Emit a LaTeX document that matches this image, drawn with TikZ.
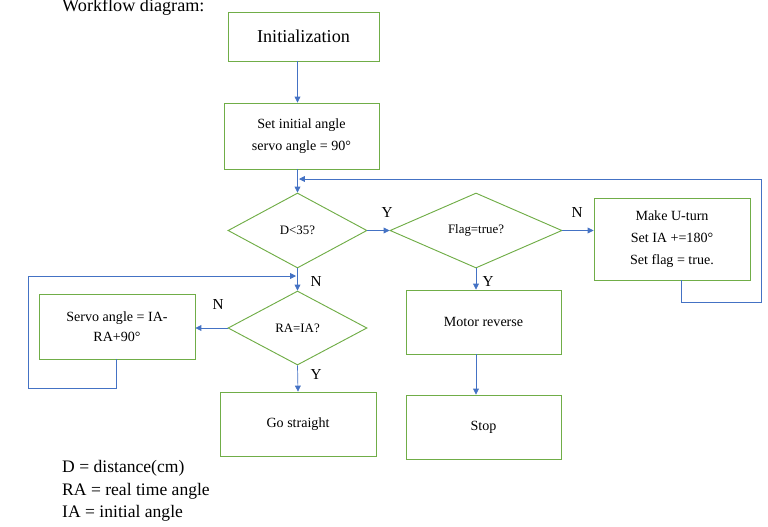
\documentclass[tikz,border=0pt]{standalone}
\usepackage{fontspec}
\setmainfont{Liberation Serif}
\usetikzlibrary{shapes.geometric,arrows.meta}
\definecolor{boxgreen}{RGB}{112,173,71}
\definecolor{lineblue}{RGB}{68,114,196}

\begin{document}
\begin{tikzpicture}[x=0.03cm,y=-0.03cm,
  box/.style = {draw=boxgreen, line width=0.8pt, align=center, font=\fontsize{12}{18.5}\selectfont, inner sep=2pt},
  decide/.style = {diamond, draw=boxgreen, line width=0.8pt, inner sep=1pt, font=\fontsize{11}{12}\selectfont},
  conn/.style = {draw=lineblue, line width=0.6pt, -{Triangle[length=5pt,width=5pt]}},
  loopline/.style = {draw=lineblue, line width=0.6pt},
  lbl/.style = {font=\fontsize{13}{14}\selectfont},
  legend/.style = {anchor = base west, inner sep=0pt, font=\fontsize{15}{16}\selectfont}]
\useasboundingbox (0,0) rectangle (768,526);

\node[legend, font=\fontsize{15.5}{16}\selectfont] (title) at (62,11) {Workflow diagram:};

\node[box, minimum width=4.53cm, minimum height=1.47cm, font=\fontsize{15.5}{17}\selectfont] (init) at (303.5,36.5) {Initialization};
\node[box, minimum width=4.65cm, minimum height=1.98cm] (setang) at (301.5,136) {Set initial angle\\servo angle = 90°};
\node[decide, minimum width=4.17cm, minimum height=2.25cm] (dlt) at (297.5,230.5) {D<35?};
\node[decide, minimum width=5.16cm, minimum height=2.25cm] (flag) at (476,230.5) {Flag=true?};
\node[box, minimum width=4.68cm, minimum height=2.46cm] (uturn) at (672,239) {Make U-turn\\Set IA +=180°\\Set flag = true.};
\node[box, minimum width=4.65cm, minimum height=1.92cm] (motor) at (483.5,322) {Motor reverse};
\node[box, minimum width=4.65cm, minimum height=1.92cm] (stop) at (483.5,427) {Stop};
\node[decide, minimum width=4.17cm, minimum height=2.22cm] (ra) at (297.5,328) {RA=IA?};
\node[box, minimum width=4.68cm, minimum height=1.95cm, font=\fontsize{12}{17}\selectfont] (servo) at (117,326.5) {Servo angle = IA-\\RA+90°};
\node[box, minimum width=4.68cm, minimum height=1.92cm] (go) at (298,424) {Go straight};

% legend
\node[legend] (leg1) at (62,472) {D = distance(cm)};
\node[legend] (leg2) at (62,495) {RA = real time angle};
\node[legend] (leg3) at (62,517) {IA = initial angle};

% main flow
\draw[conn] (init.south -| dlt.north) -- (setang.north -| dlt.north);
\draw[conn] (setang.south -| dlt.north) -- (dlt.north);
\draw[conn] (dlt.east) -- (flag.west);
\draw[conn] (flag.east) -- (flag.east -| uturn.west);
\draw[conn] (flag.south) -- (flag.south |- motor.north);
\draw[conn] (flag.south |- motor.south) -- (flag.south |- stop.north);
\draw[conn] (dlt.south) -- (ra.north);
\draw[conn] (ra.west) -- (ra.west -| servo.east);
\draw[conn] (ra.south) -- (go.north);

% loops back
\coordinate (uturnout) at (681,280);
\coordinate (topin) at (299,179);
\draw[loopline] (uturnout) -- (681,302) -- (761,302) -- (761,179) -- (330,179);
\draw[conn] (330,179) -- (topin);
\coordinate (servoout) at (116,359);
\coordinate (midin) at (296,276);
\draw[loopline] (servoout) -- (116,388) -- (28,388) -- (28,276) -- (270,276);
\draw[conn] (270,276) -- (midin);

% branch labels
\node[lbl] (ydlt) at (387,213) {Y};
\node[lbl] (nflag) at (577,213) {N};
\node[lbl] (yflag) at (488,282) {Y};
\node[lbl] (ndlt) at (316,282) {N};
\node[lbl] (nra) at (218,305) {N};
\node[lbl] (yra) at (316,375) {Y};
\end{tikzpicture}
\end{document}
